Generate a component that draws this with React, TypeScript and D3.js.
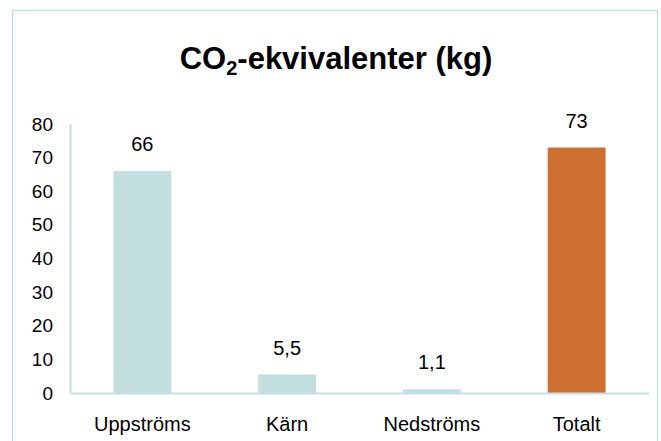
import { useEffect, useRef } from "react";
import * as d3 from "d3";

const categories = ["Uppströms", "Kärn", "Nedströms", "Totalt"];
const values = [66, 5.5, 1.1, 73];
const valueLabels = ["66", "5,5", "1,1", "73"];
const yTicks = [0, 10, 20, 30, 40, 50, 60, 70, 80];

const width = 661;
const height = 441;
const font = "Liberation Sans, Arial, sans-serif";

const App = () => {
  const ref = useRef<SVGSVGElement>(null);

  useEffect(() => {
    const svg = d3.select(ref.current);
    svg.selectAll("*").remove();

    // ram runt diagrammet
    svg
      .append("rect")
      .attr("x", 12.5)
      .attr("y", 10.5)
      .attr("width", 645)
      .attr("height", 440)
      .attr("fill", "#ffffff")
      .attr("stroke", "#c6e0e1")
      .attr("stroke-width", 1.5);

    const title = svg
      .append("text")
      .attr("x", 336)
      .attr("y", 69)
      .attr("text-anchor", "middle")
      .attr("font-family", font)
      .attr("font-weight", "bold")
      .attr("font-size", 31)
      .attr("fill", "#000");
    title.append("tspan").text("CO");
    title.append("tspan").attr("font-size", 20).attr("dy", 6).text("2");
    title.append("tspan").attr("dy", -6).text("-ekvivalenter (kg)");

    const x = d3
      .scaleBand<string>()
      .domain(categories)
      .range([70, 649])
      .paddingInner(0.6)
      .paddingOuter(0.3);

    const y = d3.scaleLinear().domain([0, 80]).range([393, 124]);

    // y-axel
    const yAxis = svg
      .append("g")
      .attr("transform", "translate(70,0)")
      .call(d3.axisLeft(y).tickValues(yTicks).tickSize(0).tickPadding(17));
    yAxis.select(".domain").attr("stroke", "#c6e0e1").attr("stroke-width", 2);
    yAxis
      .selectAll("text")
      .attr("font-family", font)
      .attr("font-size", 19)
      .attr("fill", "#000");

    // staplar
    svg
      .selectAll("rect.bar")
      .data(values)
      .enter()
      .append("rect")
      .attr("class", "bar")
      .attr("x", (_, i) => x(categories[i])!)
      .attr("y", (d) => y(d))
      .attr("width", x.bandwidth())
      .attr("height", (d) => y(0) - y(d))
      .attr("fill", (_, i) => (i === 3 ? "#cc6f31" : "#c2dedf"));

    // x-axel
    const xAxis = svg
      .append("g")
      .attr("transform", "translate(0,393)")
      .call(d3.axisBottom(x).tickSize(0).tickPadding(24));
    xAxis.select(".domain").attr("stroke", "#c6e0e1").attr("stroke-width", 2);
    xAxis
      .selectAll("text")
      .attr("font-family", font)
      .attr("font-size", 20)
      .attr("fill", "#000");

    // värdeetiketter
    svg
      .selectAll("text.val")
      .data(values)
      .enter()
      .append("text")
      .attr("class", "val")
      .attr("x", (_, i) => x(categories[i])! + x.bandwidth() / 2)
      .attr("y", (d) => y(d) - 20)
      .attr("text-anchor", "middle")
      .attr("font-family", font)
      .attr("font-size", 20)
      .attr("fill", "#000")
      .text((_, i) => valueLabels[i]);
  }, []);

  return (
    <svg
      ref={ref}
      width={width}
      height={height}
      style={{ position: "absolute", left: 0, top: 0 }}
    />
  );
};

export default App;
